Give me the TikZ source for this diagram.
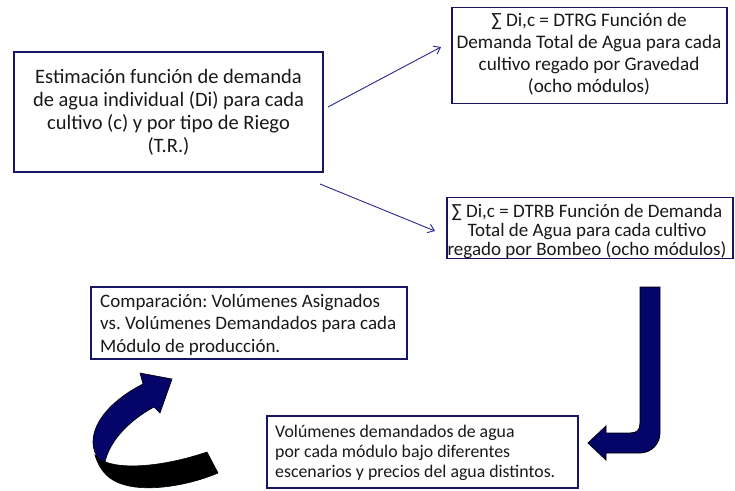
\documentclass[tikz,border=0pt]{standalone}
\usepackage{fontspec}
\setmainfont{Carlito}
\usetikzlibrary{arrows.meta}
\definecolor{boxblue}{RGB}{22,22,100}
\definecolor{linkblue}{RGB}{40,40,140}
\definecolor{arrowfill}{RGB}{5,5,105}
\tikzset{
  box/.style={draw=boxblue, line width=1.6pt, fill=white, inner sep=0pt},
  txt/.style={inner sep=0pt, text=black!90, execute at begin node=\frenchspacing},
  link/.style={draw=linkblue, line width=0.9pt, -{Straight Barb[length=6pt,width=9pt,line width=0.9pt]}},
}
\begin{document}
\begin{tikzpicture}[x=1pt,y=-1pt]
\useasboundingbox (0,0) rectangle (735,490);
\fill[white] (0,0) rectangle (735,490);
% boxes
\node[box, minimum width=309pt, minimum height=120pt] (est) at (168.5,112) {};
\node[txt, align=center, font=\fontsize{20.5}{23}\selectfont] (esttxt) at (168.5,112.5)
  {Estimación función de demanda\\de agua individual (Di) para cada\\cultivo (c) y por tipo de Riego\\(T.R.)};
\node[box, minimum width=275pt, minimum height=96pt] (grav) at (589.5,55.5) {};
\node[txt, align=center, font=\fontsize{19.2}{22}\selectfont] (gravtxt) at (589,54.5)
  {∑ Di,c = DTRG Función de\\Demanda Total de Agua para cada\\cultivo regado por Gravedad\\(ocho módulos)};
\node[box, minimum width=286pt, minimum height=61pt] (bomb) at (590,228) {};
\node[txt, align=center, font=\fontsize{19}{19}\selectfont] (bombtxt) at (587,232)
  {∑ Di,c = DTRB Función de Demanda\\Total de Agua para cada cultivo\\regado por Bombeo (ocho módulos)};
\node[box, minimum width=316pt, minimum height=72pt] (comp) at (249,323) {};
\node[txt, align=left, anchor=west, font=\fontsize{19}{22.5}\selectfont] (comptxt) at (100,324.5)
  {Comparación: Volúmenes Asignados\\vs. Volúmenes Demandados para cada\\Módulo de producción.};
\node[box, minimum width=311pt, minimum height=72pt] (vol) at (422.5,452) {};
\node[txt, align=left, anchor=west, font=\fontsize{17.8}{20}\selectfont] (voltxt) at (275,453)
  {Volúmenes demandados de agua\\por cada módulo bajo diferentes\\escenarios y precios del agua distintos.};
% connectors
\coordinate (s1) at (328,107);
\coordinate (e1) at (441,47);
\coordinate (s2) at (320,184);
\coordinate (e2) at (435,231);
\draw[link] (s1) -- (e1);
\draw[link] (s2) -- (e2);
% J-shaped block arrow
\filldraw[fill=arrowfill, draw=black, line width=0.8pt]
  (640,287) -- (640,423) .. controls (640,430) and (637,433) .. (630,433)
  -- (606,433) -- (606,426) -- (588,443) -- (606,460) -- (606,453) -- (640,453)
  .. controls (651,453) and (660,444) .. (660,433) -- (660,287) -- cycle;
% curved ribbon arrow
\filldraw[fill=black, draw=black, line width=0.6pt]
  (100,459) .. controls (115,470) and (160,468) .. (207,452) -- (218,473)
  .. controls (190,485) and (150,492) .. (125,485)
  .. controls (110,481) and (100,472) .. (95,455) -- cycle;
\filldraw[fill=arrowfill, draw=black, line width=0.6pt]
  (143,384) .. controls (115,398) and (93,420) .. (93,442)
  .. controls (93,450) and (96,456) .. (100,460) -- (105,462)
  .. controls (110,440) and (130,420) .. (154,407)
  -- (160,413) -- (172,379) -- (140,373) -- cycle;
\end{tikzpicture}
\end{document}
